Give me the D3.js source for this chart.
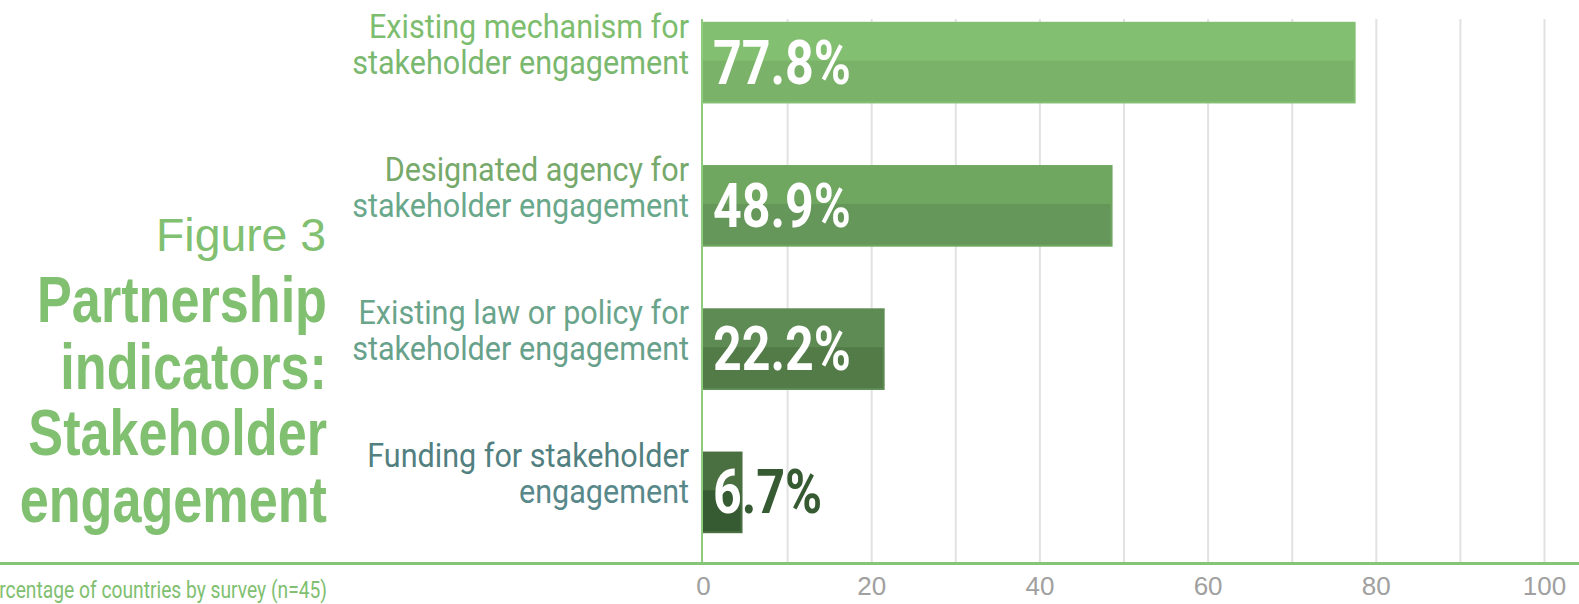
<!DOCTYPE html>
<html>
<head>
<meta charset="utf-8">
<script src="https://cdn.jsdelivr.net/npm/d3@7"></script>
<style>
  body { margin: 0; background: #fff; }
</style>
</head>
<body>
<div id="chart"></div>
<script>
// data
const categories = [
  ['Existing mechanism for', 'stakeholder engagement'],
  ['Designated agency for', 'stakeholder engagement'],
  ['Existing law or policy for', 'stakeholder engagement'],
  ['Funding for stakeholder', 'engagement']
];
const values = [77.8, 48.9, 22.2, 6.7];          // printed labels
const barLengths = [77.6, 48.7, 21.6, 4.7];      // bar ends as drawn in the original
const xTickLabels = [0, 20, 40, 60, 80, 100];
const gridTicks = [10, 20, 30, 40, 50, 60, 70, 80, 90, 100];
const figureLabel = 'Figure 3';
const titleLines = ['Partnership', 'indicators:', 'Stakeholder', 'engagement'];
const note = 'Percentage of countries by survey (n=45)';

// colours
const barTop = ['#82bf71', '#6fa760', '#5e8b53', '#4a7042'];
const barBottom = ['#7bb269', '#65975a', '#537b48', '#365a31'];
const labelColors = [['#7dbd6e', '#7ab86f'], ['#76a96a', '#6aa88b'], ['#6aa48b', '#68a18b'], ['#527f80', '#58888a']];
const green = '#80c070';

const width = 1579;
const height = 604;
const axisY = 563;

const svg = d3.select('#chart')
    .append('svg')
    .attr('width', width)
    .attr('height', height);

// measure a string to get a horizontal squeeze factor (fake condensed fonts)
function squeeze(str, font, target) {
  const t = svg.append('text').attr('style', font).text(str);
  const w = t.node().getComputedTextLength();
  t.remove();
  return target / w;
}

const xScale = d3.scaleLinear().domain([0, 100]).range([703, 1544]);
const yScale = d3.scaleBand()
    .domain(d3.range(values.length))
    .range([-9, axisY + 1])
    .paddingInner(0.43)
    .paddingOuter(0.215);
const bw = yScale.bandwidth();

// grid
const grid = svg.append('g')
    .attr('transform', `translate(0,${axisY})`)
    .call(d3.axisBottom(xScale).tickValues(gridTicks).tickSize(-(axisY - 19)).tickFormat(''));
grid.select('.domain').remove();
grid.selectAll('line').attr('stroke', '#e2e2e2').attr('stroke-width', 2);

// tick labels
const ticks = svg.append('g')
    .attr('transform', `translate(0,${axisY})`)
    .call(d3.axisBottom(xScale).tickValues(xTickLabels).tickSize(0).tickPadding(0));
ticks.select('.domain').remove();
ticks.selectAll('text')
    .attr('y', 32)
    .attr('dy', 0)
    .attr('fill', '#a0a0a0')
    .attr('font-family', '"Liberation Sans", Arial, sans-serif')
    .attr('font-size', 26);

// bars
const bars = svg.selectAll('.bar')
    .data(values)
    .enter().append('g')
    .attr('class', 'bar');

bars.append('rect')
    .attr('x', xScale(0))
    .attr('y', (d, i) => yScale(i))
    .attr('width', (d, i) => xScale(barLengths[i]) - xScale(0))
    .attr('height', bw)
    .attr('fill', (d, i) => barTop[i]);

bars.append('rect')
    .attr('x', xScale(0))
    .attr('y', (d, i) => yScale(i) + bw / 2 - 2)
    .attr('width', (d, i) => xScale(barLengths[i]) - xScale(0) - 2)
    .attr('height', bw / 2)
    .attr('fill', (d, i) => barBottom[i]);

// clip paths so the value text is white on the bar and dark off it
const defs = svg.append('defs');
defs.selectAll('clipPath')
    .data(values)
    .enter().append('clipPath')
    .attr('id', (d, i) => 'clip' + i)
    .append('rect')
    .attr('x', xScale(0))
    .attr('y', (d, i) => yScale(i))
    .attr('width', (d, i) => xScale(barLengths[i]) - xScale(0))
    .attr('height', bw);

const valFont = 'font-family: Roboto, sans-serif; font-weight: 700; font-size: 62px;';
const valSx = squeeze('77.8%', valFont, 138);

function valueText(sel, fillFn) {
  sel.append('text')
      .attr('style', valFont)
      .attr('transform', (d, i) => `translate(${xScale(0) + 10},${yScale(i) + bw / 2 + 21}) scale(${valSx},1)`)
      .attr('fill', fillFn)
      .text(d => d.toFixed(1) + '%');
}
valueText(bars, (d, i) => barBottom[i]);
bars.append('g')
    .attr('clip-path', (d, i) => `url(#clip${i})`)
    .call(g => valueText(g, '#fff'));

// axes lines
svg.append('line')
    .attr('x1', xScale(0) - 1).attr('x2', xScale(0) - 1)
    .attr('y1', 19).attr('y2', axisY)
    .attr('stroke', '#8dcc7c').attr('stroke-width', 2);
svg.append('line')
    .attr('x1', 0).attr('x2', width)
    .attr('y1', axisY + 0.5).attr('y2', axisY + 0.5)
    .attr('stroke', '#86c477').attr('stroke-width', 3);

// category labels
const catFont = 'font-family: Roboto, sans-serif; font-weight: 400; font-size: 34px;';
const catSx = squeeze('stakeholder engagement', catFont, 337);
const cats = svg.selectAll('.cat')
    .data(categories)
    .enter().append('g')
    .attr('class', 'cat')
    .attr('transform', (d, i) => `translate(689,${yScale(i) + bw / 2}) scale(${catSx},1)`);
cats.selectAll('text')
    .data((d, i) => d.map((line, j) => ({line, j, i})))
    .enter().append('text')
    .attr('style', catFont)
    .attr('text-anchor', 'end')
    .attr('y', d => d.j === 0 ? -25 : 11)
    .attr('fill', d => labelColors[d.i][d.j])
    .text(d => d.line);

// title block
const figFont = 'font-family: "Liberation Sans", Arial, sans-serif; font-weight: 400; font-size: 46px;';
svg.append('text')
    .attr('style', figFont)
    .attr('text-anchor', 'end')
    .attr('transform', `translate(326,251) scale(${squeeze(figureLabel, figFont, 170)},1)`)
    .attr('fill', green)
    .text(figureLabel);

const titleFont = 'font-family: "Liberation Sans", Arial, sans-serif; font-weight: 700; font-size: 64px;';
const titleSx = squeeze('Partnership', titleFont, 290);
svg.selectAll('.title')
    .data(titleLines)
    .enter().append('text')
    .attr('class', 'title')
    .attr('style', titleFont)
    .attr('text-anchor', 'end')
    .attr('transform', (d, i) => `translate(327,${322 + i * 66.5}) scale(${titleSx},1)`)
    .attr('fill', green)
    .text(d => d);

// note, runs off the left edge as in the original
const noteFont = 'font-family: Roboto, sans-serif; font-weight: 400; font-size: 23px;';
const noteSx = squeeze(note.slice(2), noteFont, 328);
svg.append('text')
    .attr('style', noteFont)
    .attr('text-anchor', 'end')
    .attr('transform', `translate(327,598) scale(${noteSx},1)`)
    .attr('fill', green)
    .text(note);
</script>
</body>
</html>
